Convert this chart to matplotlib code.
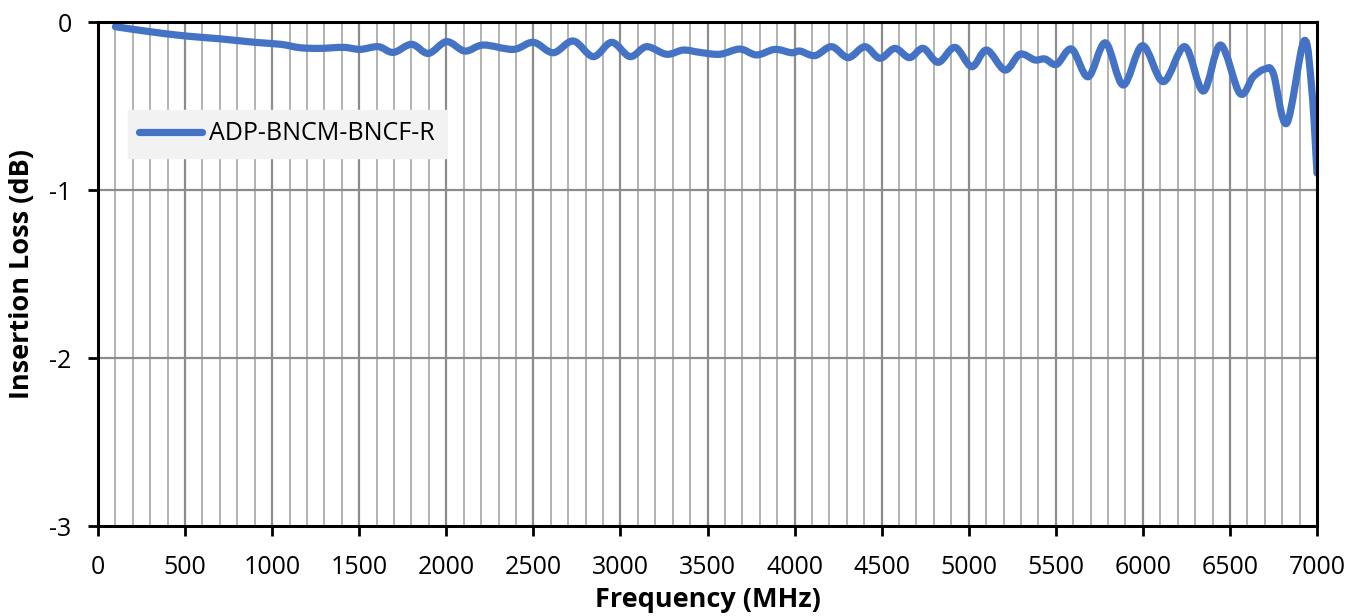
import matplotlib
matplotlib.use("Agg")
import matplotlib.pyplot as plt
import numpy as np
from matplotlib.path import Path
from matplotlib.patches import PathPatch
from matplotlib.lines import Line2D

# ---- data ----
freq_mhz = [100, 300, 500, 700, 900, 1050, 1160, 1275, 1410, 1505, 1610, 1696,
            1801, 1897, 2002, 2107, 2213, 2385, 2500, 2614, 2729, 2844, 2950,
            3055, 3150, 3265, 3361, 3457, 3571, 3686, 3782, 3887, 3983, 4031,
            4117, 4213, 4308, 4404, 4490, 4576, 4660, 4739, 4825, 4921, 5017,
            5103, 5208, 5294, 5380, 5438, 5505, 5591, 5686, 5785, 5887, 5998,
            6117, 6241, 6347, 6446, 6557, 6634, 6701, 6749, 6826, 6925, 6970,
            7000]
loss_db = [-0.028, -0.058, -0.083, -0.100, -0.121, -0.133, -0.153, -0.157,
           -0.151, -0.163, -0.147, -0.181, -0.133, -0.187, -0.117, -0.173,
           -0.137, -0.163, -0.121, -0.183, -0.113, -0.206, -0.121, -0.206,
           -0.147, -0.192, -0.167, -0.181, -0.192, -0.161, -0.196, -0.163,
           -0.183, -0.173, -0.200, -0.147, -0.212, -0.147, -0.216, -0.157,
           -0.212, -0.157, -0.240, -0.151, -0.266, -0.167, -0.286, -0.192,
           -0.226, -0.220, -0.252, -0.161, -0.326, -0.124, -0.375, -0.141,
           -0.355, -0.147, -0.411, -0.137, -0.425, -0.326, -0.280, -0.306,
           -0.603, -0.113, -0.400, -0.900]
series_name = "ADP-BNCM-BNCF-R"
x_ticks = [0, 500, 1000, 1500, 2000, 2500, 3000, 3500, 4000, 4500, 5000,
           5500, 6000, 6500, 7000]
y_ticks = [0, -1, -2, -3]

plt.rcParams['font.family'] = ['Open Sans', 'DejaVu Sans']

W, H = 1362, 616
fig = plt.figure(figsize=(W/100, H/100), dpi=100)
ax = fig.add_axes([98/W, 1 - 526/H, (1317-98)/W, (526-22)/H])

ax.set_xlim(0, 7000)
ax.set_ylim(-3, 0)

# grid
for f in range(100, 7000, 100):
    if f % 500 == 0:
        ax.axvline(f, color='#8c8c8c', lw=1.6, zorder=1)
    else:
        ax.axvline(f, color='#a6a6a6', lw=1.2, zorder=1)
for v in [-1, -2]:
    ax.axhline(v, color='#8c8c8c', lw=1.6, zorder=1)

# smoothed line (Catmull-Rom -> cubic Bezier, like a smoothed chart line)
x = np.array(freq_mhz, float)
y = np.array(loss_db, float)
verts = [(x[0], y[0])]
codes = [Path.MOVETO]
n = len(x)
for i in range(n - 1):
    p0 = (x[i-1], y[i-1]) if i > 0 else (x[i], y[i])
    p1 = (x[i], y[i])
    p2 = (x[i+1], y[i+1])
    p3 = (x[i+2], y[i+2]) if i + 2 < n else (x[i+1], y[i+1])
    t = 1/6
    c1 = (p1[0] + (p2[0]-p0[0])*t, p1[1] + (p2[1]-p0[1])*t)
    c2 = (p2[0] - (p3[0]-p1[0])*t, p2[1] - (p3[1]-p1[1])*t)
    verts += [c1, c2, p2]
    codes += [Path.CURVE4]*3
patch = PathPatch(Path(verts, codes), facecolor='none', edgecolor='#4472C4',
                  lw=5.2, capstyle='round', joinstyle='round', zorder=3)
ax.add_patch(patch)

for s in ax.spines.values():
    s.set_color('black')
    s.set_linewidth(2.2)
    s.set_zorder(4)

ax.set_xticks(x_ticks)
ax.set_xticklabels([str(t) for t in x_ticks])
ax.set_yticks(y_ticks)
ax.set_yticklabels([str(t) for t in y_ticks])
ax.tick_params(axis='both', direction='out', length=7, width=2, color='black',
               labelsize=18, labelcolor='black')
ax.tick_params(axis='x', pad=14)
ax.tick_params(axis='y', pad=12)

fig.text((98+1317)/2/W, 1 - 600/H, 'Frequency (MHz)', fontsize=19.5,
         fontweight='bold', ha='center', va='center')
fig.text(22/W, 1 - 274/H, 'Insertion Loss (dB)', fontsize=19.5,
         fontweight='bold', ha='center', va='center', rotation=90)

leg_handle = Line2D([], [], color='#4472C4', lw=5.2, solid_capstyle='round')
leg = ax.legend([leg_handle], [series_name], loc='upper left',
                bbox_to_anchor=((128-98)/1219, 1 - (110-22)/504),
                frameon=True, fontsize=18, handlelength=2.5, handletextpad=0.3,
                borderpad=0.45, borderaxespad=0, fancybox=False)
leg.get_frame().set_facecolor('#f2f2f2')
leg.get_frame().set_edgecolor('#f2f2f2')
leg.get_frame().set_alpha(1)
leg.set_zorder(5)

fig.savefig('out.png', dpi=100)
